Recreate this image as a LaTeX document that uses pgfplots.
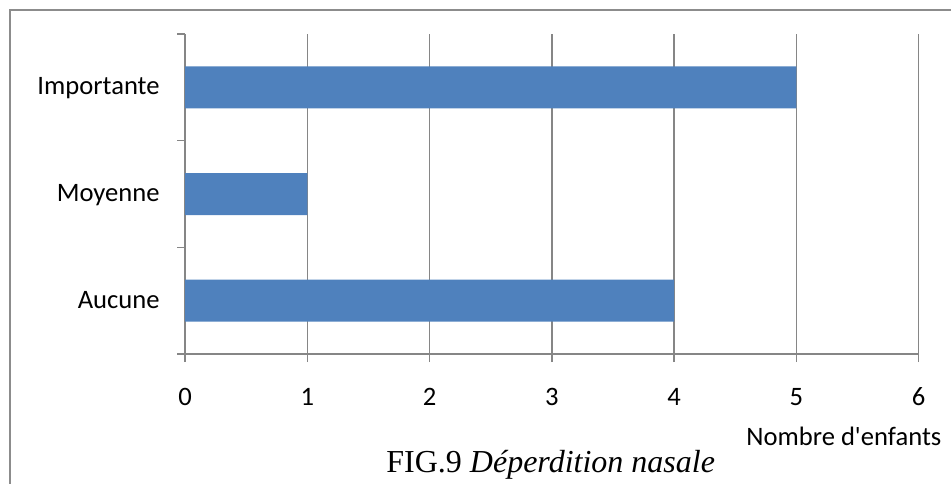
\documentclass[border=0pt]{standalone}
\usepackage{fontspec}
\setmainfont{Carlito}
\newfontfamily\capfont{Liberation Serif}
\usepackage{pgfplots}
\pgfplotsset{compat=1.18}
\definecolor{barblue}{HTML}{4F81BD}
\definecolor{axgray}{HTML}{868686}
\definecolor{framegray}{HTML}{8C8C8C}

\begin{document}
\fontsize{13.3pt}{15pt}\selectfont
\begin{tikzpicture}
\useasboundingbox (0,0) rectangle (475.5pt,-241.5pt);
% outer frame (only top and left edges visible)
\draw[framegray, line width=1pt] (4.75pt,-260pt) -- (4.75pt,-5.15pt) -- (490pt,-5.15pt);
\begin{axis}[
    at={(92.5pt,-177pt)}, anchor=south west,
    width=366.85pt, height=160pt, scale only axis,
    xbar, bar width=21pt,
    xmin=0, xmax=6, ymin=-0.5, ymax=2.5,
    xtick={0,1,2,3,4,5,6},
    ytick={0,1,2},
    yticklabels={Aucune,Moyenne,Importante},
    minor ytick={-0.5,0.5,1.5,2.5},
    axis x line*=bottom, axis y line*=left,
    axis line style={axgray, line width=0.75pt},
    xmajorgrids,
    major grid style={axgray, line width=0.75pt},
    tick align=outside,
    major tick length=4pt, minor tick length=4pt,
    tick style={axgray, line width=0.75pt},
    major y tick style={draw=none},
    /pgf/number format/assume math mode=true,
    xticklabel style={anchor=base, inner sep=0pt, yshift=-21.5pt},
    yticklabel style={anchor=base east, inner sep=0pt, xshift=-8.5pt, yshift=-3.7pt},
]
\addplot[fill=barblue, draw=none] coordinates {(4,0) (1,1) (5,2)};
\end{axis}
\node[anchor=base west, inner sep=0pt] at (373pt,-222.8pt) {Nombre d\textquotesingle enfants};
\node[anchor=base west, inner sep=0pt, font=\capfont\fontsize{16pt}{18pt}\selectfont] at (193pt,-236pt) {FIG.9 \textit{Déperdition nasale}};
\end{tikzpicture}
\end{document}
